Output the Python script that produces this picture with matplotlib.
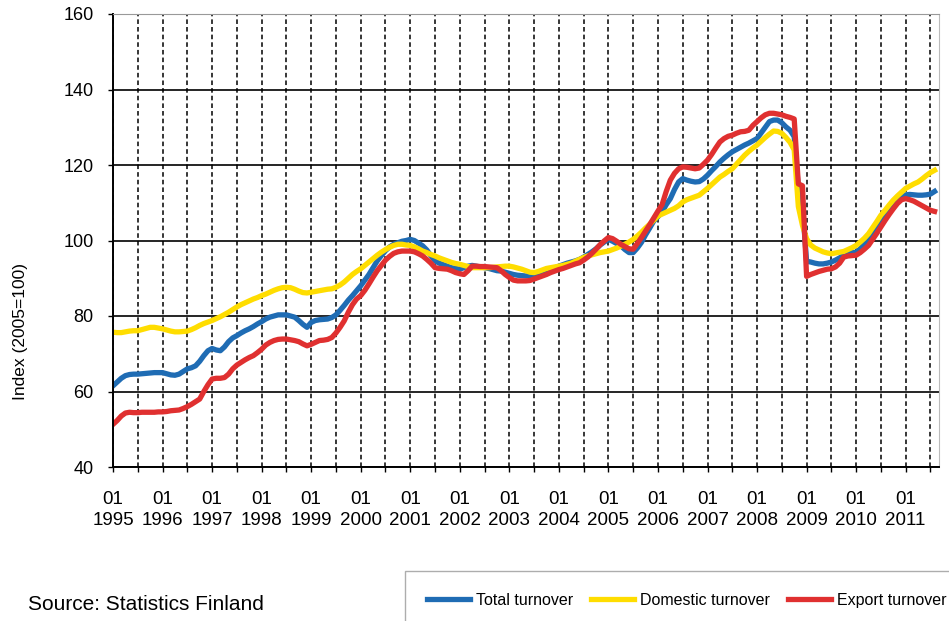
import numpy as np
import matplotlib.pyplot as plt

plt.rcParams['font.family'] = ['Liberation Sans', 'DejaVu Sans']

# monthly index values, 01/1995 - 08/2011 (2005=100)
years = list(range(1995, 2012))

total = [
    61.5, 62.5, 63.5, 64.2, 64.5, 64.6, 64.6, 64.7, 64.8, 64.9, 65.0, 65.0,
    65.0, 64.7, 64.4, 64.3, 64.6, 65.3, 66.0, 66.3, 66.8, 68.0, 69.5, 70.8,
    71.4, 71.0, 70.8, 71.8, 73.2, 74.2, 74.8, 75.5, 76.1, 76.6, 77.2, 77.9,
    78.5, 79.2, 79.7, 80.0, 80.3, 80.3, 80.3, 80.0, 79.7, 78.8, 77.8, 77.0,
    78.3, 78.8, 79.0, 79.1, 79.2, 79.6, 80.3, 81.5, 82.8, 84.2, 85.4, 86.7,
    88.0, 89.5, 91.0, 92.8, 94.6, 96.0, 97.3, 98.3, 99.0, 99.4, 99.8, 100.0,
    100.3, 100.0, 99.3, 98.6, 97.5, 96.0, 94.6, 94.0, 93.6, 93.2, 92.8, 92.6,
    92.4, 92.8, 93.2, 93.4, 93.2, 93.0, 92.8, 92.6, 92.3, 92.0, 91.9, 91.6,
    91.3, 91.0, 90.8, 90.7, 90.6, 90.7, 91.0, 91.3, 91.6, 91.9, 92.3, 92.7,
    93.2, 93.6, 94.0, 94.3, 94.6, 95.0, 95.6, 96.3, 97.0, 97.8, 98.8, 99.6,
    100.3, 99.8, 99.2, 98.6, 97.6, 96.8, 96.8, 98.0, 99.5, 101.5, 103.3, 105.2,
    106.3, 107.6, 109.5, 111.1, 113.5, 115.5, 116.4, 116.0, 115.7, 115.5, 115.6, 116.3,
    117.3, 118.5, 119.6, 120.8, 121.8, 122.7, 123.5, 124.1, 124.7, 125.3, 125.8, 126.4,
    127.0, 128.5, 130.0, 131.5, 131.9, 131.9, 131.2, 130.1, 129.2, 127.5, 114.0, 109.0,
    94.5, 94.3, 94.0, 93.8, 93.8, 94.0, 94.3, 94.8, 95.4, 96.1, 96.5, 96.8,
    96.9, 97.8, 99.0, 100.5, 102.1, 103.7, 105.3, 106.7, 108.0, 109.3, 110.3, 111.3,
    112.1, 112.2, 112.1, 112.0, 112.0, 112.1, 112.3, 113.0,
]

domestic = [
    75.7, 75.6, 75.6, 75.8, 76.0, 76.1, 76.1, 76.4, 76.7, 77.0, 77.0, 76.8,
    76.6, 76.3, 76.0, 75.8, 75.8, 75.9, 76.0, 76.4, 76.9, 77.5, 78.0, 78.4,
    78.8, 79.3, 79.8, 80.4, 81.0, 81.7, 82.4, 83.0, 83.5, 84.0, 84.5, 84.9,
    85.4, 85.8, 86.3, 86.8, 87.2, 87.5, 87.6, 87.5, 87.1, 86.6, 86.2, 86.1,
    86.3, 86.5, 86.7, 86.9, 87.1, 87.2, 87.6, 88.2, 89.0, 90.0, 91.0, 91.8,
    92.5, 93.4, 94.3, 95.2, 96.1, 96.9, 97.6, 98.2, 98.7, 99.0, 99.0, 98.8,
    98.7, 98.3, 97.8, 97.2, 96.8, 96.3, 95.9, 95.4, 95.0, 94.6, 94.2, 93.9,
    93.7, 93.4, 93.1, 92.8, 92.8, 92.8, 92.8, 92.8, 92.9, 93.0, 93.1, 93.2,
    93.2, 93.0, 92.7, 92.4, 92.0, 91.6, 91.5, 91.8, 92.2, 92.6, 92.8, 93.0,
    93.2, 93.4, 93.7, 94.0, 94.5, 95.0, 95.5, 95.9, 96.2, 96.5, 96.8, 97.0,
    97.2, 97.6, 98.0, 98.5, 99.0, 99.6, 100.3, 101.2, 102.2, 103.3, 104.3, 105.4,
    106.5, 107.0, 107.5, 108.0, 108.5, 109.2, 110.2, 110.8, 111.2, 111.6, 112.0, 112.9,
    113.8, 114.8, 115.8, 116.8, 117.5, 118.3, 119.0, 120.2, 121.4, 122.6, 123.6, 124.5,
    125.3, 126.3, 127.3, 128.2, 129.0, 128.9, 128.4, 127.3, 126.0, 124.0, 109.0, 104.0,
    100.5, 98.8, 98.0, 97.5, 97.0, 96.7, 96.5, 96.7, 96.9, 97.1, 97.6, 98.1,
    98.7, 99.6, 100.6, 101.8, 103.4, 105.0, 106.7, 108.0, 109.4, 110.7, 111.8, 112.8,
    113.8, 114.4, 115.0, 115.5, 116.3, 117.2, 118.0, 118.6,
]

export = [
    51.3, 52.3, 53.5, 54.3, 54.5, 54.4, 54.4, 54.5, 54.5, 54.5, 54.5, 54.6,
    54.6, 54.7, 54.9, 55.0, 55.1, 55.5, 56.0, 56.6, 57.3, 58.0, 60.0, 61.8,
    63.3, 63.5, 63.5, 63.7, 64.6, 66.0, 67.0, 67.7, 68.4, 69.0, 69.5, 70.3,
    71.2, 72.3, 73.0, 73.5, 73.8, 73.9, 73.9, 73.7, 73.5, 73.2, 72.6, 72.1,
    72.5, 73.0, 73.5, 73.6, 73.8, 74.3, 75.5, 77.0, 78.7, 81.0, 83.0, 84.5,
    85.4, 86.8, 88.5, 90.3, 92.0, 93.4, 94.8, 95.8, 96.6, 97.0, 97.2, 97.2,
    97.2, 97.0, 96.5, 95.9, 95.0, 94.0, 92.8, 92.6, 92.5, 92.4, 92.0, 91.5,
    91.2, 91.0, 92.0, 93.2, 93.2, 93.1, 93.1, 93.0, 92.9, 92.8, 92.0, 91.0,
    90.2, 89.5, 89.3, 89.3, 89.3, 89.4, 89.8, 90.2, 90.6, 91.0, 91.5, 91.9,
    92.3, 92.6, 93.0, 93.4, 93.8, 94.1, 94.8, 95.6, 96.6, 97.7, 98.9, 99.9,
    100.8, 100.5, 99.8, 99.0, 98.4, 97.8, 97.7, 99.2, 100.8, 102.5, 104.2, 106.0,
    107.8, 109.5, 113.0, 116.0, 117.8, 119.0, 119.5, 119.4, 119.2, 119.0, 119.2, 120.2,
    121.3, 122.8, 124.5, 126.1, 127.0, 127.6, 127.9, 128.4, 128.8, 128.9, 129.2, 130.5,
    131.5, 132.5, 133.3, 133.7, 133.7, 133.5, 133.3, 132.9, 132.6, 132.2, 115.0, 114.5,
    90.5, 91.0, 91.4, 91.8, 92.1, 92.4, 92.5, 93.0, 94.0, 95.6, 95.9, 96.0,
    96.1, 96.8, 97.7, 98.7, 100.3, 101.9, 103.6, 105.3, 106.9, 108.4, 109.8, 110.8,
    111.1, 110.8, 110.4, 109.8, 109.2, 108.6, 108.0, 107.7,
]

x = np.arange(len(total))

W, H = 949, 621
fig = plt.figure(figsize=(W / 100, H / 100), dpi=100)
ax = fig.add_axes([113 / W, 1 - 467 / H, (938.7 - 113) / W, (467 - 14) / H])

ax.plot(x, total, color='#1f6cb4', lw=3.8, label='Total turnover', solid_joinstyle='round')
ax.plot(x, domestic, color='#ffdd00', lw=3.8, label='Domestic turnover', solid_joinstyle='round')
ax.plot(x, export, color='#e03030', lw=3.8, label='Export turnover', solid_joinstyle='round')

ax.set_xlim(0, 200)
ax.set_ylim(40, 160)
ax.set_yticks(range(40, 161, 20))
ax.set_xticks(np.arange(0, 193, 12))
ax.set_xticklabels(['01\n%d' % y for y in years], linespacing=1.3)
ax.set_xticks(np.arange(6, 200, 12), minor=True)

ax.yaxis.grid(True, color='black', lw=1.2)
ax.xaxis.grid(True, which='both', color='black', lw=1.1, ls=(0, (3, 2)))
ax.set_axisbelow(True)

ax.tick_params(axis='x', which='both', direction='out', length=3.6, width=1, pad=14, labelsize=13.5)
ax.tick_params(axis='y', direction='out', length=3.6, width=1, pad=10.5, labelsize=13)

for s in ['left', 'bottom']:
    ax.spines[s].set_linewidth(1.4)
ax.spines['top'].set_color('#999999')
ax.spines['right'].set_color('#bbbbbb')

ax.set_ylabel('Index (2005=100)', fontsize=12.5)
ax.yaxis.set_label_coords(-0.103, 0.30)

fig.text(28 / W, 1 - 604 / H, 'Source: Statistics Finland', fontsize=15, va='center', ha='left')

leg = fig.legend(loc='upper left', bbox_to_anchor=(405 / W, 1 - 571 / H), ncol=3,
                 fontsize=11.5, handlelength=2.7, handletextpad=0.4, columnspacing=1.1,
                 borderpad=1.35, borderaxespad=0, fancybox=False, frameon=True)
leg.get_frame().set_edgecolor('#999999')
leg.get_frame().set_linewidth(1)

fig.savefig('out.png', dpi=100)
